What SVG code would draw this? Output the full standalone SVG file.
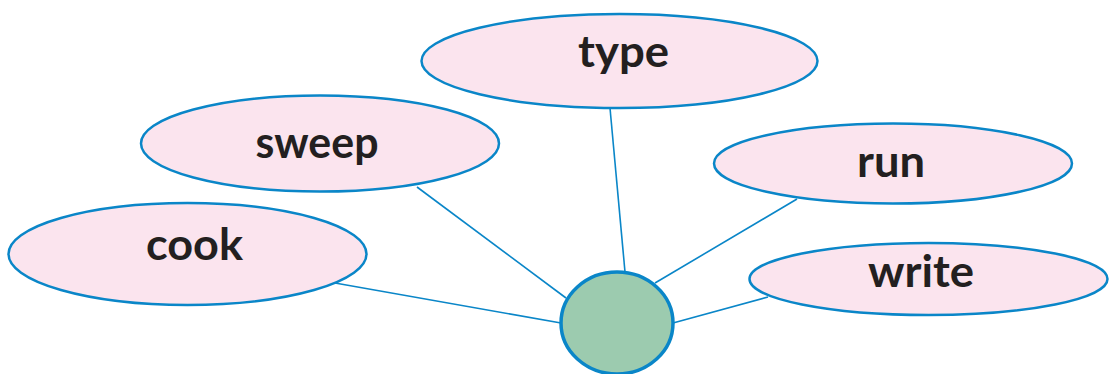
<svg xmlns="http://www.w3.org/2000/svg" width="1109" height="374" viewBox="0 0 1109 374">
<style>
.node{fill:#fbe4ee;stroke:#0a86c8;stroke-width:2.5}
.hub{fill:#9ccbaf;stroke:#0a86c8;stroke-width:3.5}
.edge{stroke:#0a86c8;stroke-width:1.6;fill:none}
.lbl{font-family:Lato,"Open Sans","Liberation Sans",sans-serif;font-weight:700;font-size:43px;fill:#231f20;text-anchor:middle}
</style>
<rect width="1109" height="374" fill="#ffffff"/>
<g id="connectors">
<line class="edge" x1="610" y1="108" x2="625" y2="272"/>
<line class="edge" x1="417" y1="187" x2="566" y2="298"/>
<line class="edge" x1="335" y1="283" x2="561" y2="323"/>
<line class="edge" x1="797" y1="199" x2="655" y2="283"/>
<line class="edge" x1="768" y1="297" x2="673" y2="323"/>
</g>
<g id="node-type">
<ellipse class="node" cx="619.5" cy="61" rx="198" ry="47"/>
<text class="lbl" x="623.5" y="67" textLength="91" lengthAdjust="spacingAndGlyphs">type</text>
</g>
<g id="node-sweep">
<ellipse class="node" cx="320" cy="143.5" rx="179" ry="48"/>
<text class="lbl" x="317" y="158" textLength="123" lengthAdjust="spacingAndGlyphs">sweep</text>
</g>
<g id="node-run">
<ellipse class="node" cx="893" cy="163.5" rx="179" ry="40"/>
<text class="lbl" x="891" y="177" textLength="68" lengthAdjust="spacingAndGlyphs">run</text>
</g>
<g id="node-cook">
<ellipse class="node" cx="187.5" cy="254" rx="179" ry="51"/>
<text class="lbl" x="194.5" y="260" textLength="97" lengthAdjust="spacingAndGlyphs">cook</text>
</g>
<g id="node-write">
<ellipse class="node" cx="928.5" cy="279" rx="179" ry="36"/>
<text class="lbl" x="921" y="287" textLength="106" lengthAdjust="spacingAndGlyphs">write</text>
</g>
<g id="node-hub">
<ellipse class="hub" cx="617" cy="323" rx="56" ry="51"/>
</g>
</svg>
